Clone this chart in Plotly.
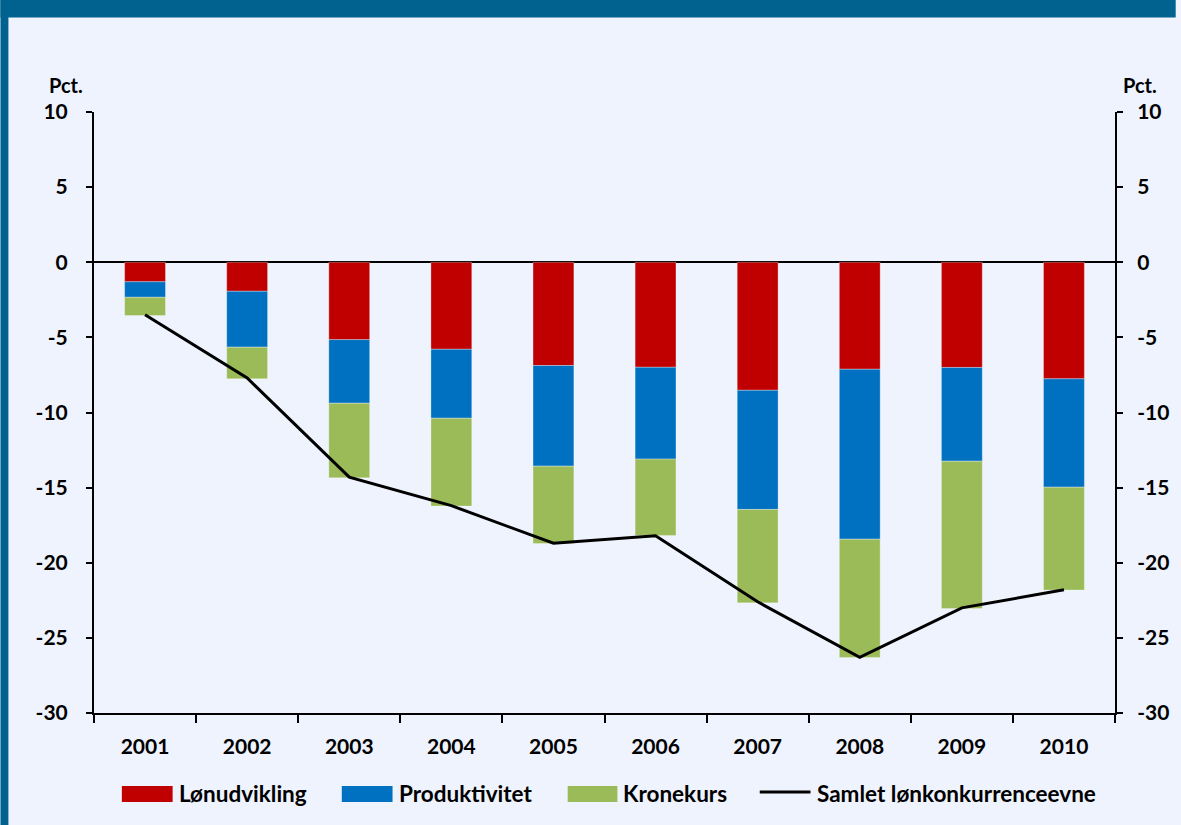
import plotly.graph_objects as go

years = ["2001", "2002", "2003", "2004", "2005", "2006", "2007", "2008", "2009", "2010"]
lonudvikling = [-1.30, -1.93, -5.15, -5.79, -6.87, -6.99, -8.52, -7.12, -7.00, -7.76]
produktivitet = [-1.03, -3.72, -4.23, -4.59, -6.70, -6.11, -7.93, -11.31, -6.24, -7.21]
kronekurs = [-1.22, -2.11, -4.97, -5.85, -5.15, -5.08, -6.22, -7.87, -9.80, -6.85]
samlet = [-3.5, -7.7, -14.3, -16.2, -18.7, -18.2, -22.6, -26.3, -23.0, -21.8]
y_ticks = [10, 5, 0, -5, -10, -15, -20, -25, -30]
series_names = ["Lønudvikling", "Produktivitet", "Kronekurs", "Samlet lønkonkurrenceevne"]
series_colors = ["#C00000", "#0070C0", "#9BBB59", "black"]

FONT = "Lato"
BG = "#EEF3FE"
BANNER = "#02628F"

# plot area pixel geometry
L, R, T, B = 94, 61, 112, 112
W, H = 1181, 825
pw, ph = W - L - R, H - T - B


def px_x(p):
    return (p - L) / pw


def px_y(p):
    return (H - B - p) / ph


fig = go.Figure()
for vals, name, col in zip([lonudvikling, produktivitet, kronekurs], series_names[:3], series_colors[:3]):
    fig.add_trace(go.Bar(x=years, y=vals, name=name, showlegend=False,
                         marker=dict(color=col, line=dict(width=0.6, color="rgba(255,255,255,0.5)"))))
fig.add_trace(go.Scatter(x=years, y=samlet, name=series_names[3], showlegend=False,
                         mode="lines", line=dict(color="black", width=3), yaxis="y2"))

axis_font = dict(family=FONT, size=21, color="black", weight="bold")
leg_font = dict(family=FONT, size=22.5, color="black", weight="bold")
pct_font = dict(family=FONT, size=20, color="black", weight="bold")

# legend drawn as shapes + text (wide swatches as in the reference)
leg_swatch_x = [(122, 173), (343, 394), (570, 620), (763, 814)]
leg_text_x = [177, 398, 624, 819]
shapes = [
    dict(type="rect", xref="paper", yref="paper",
         x0=px_x(0), x1=px_x(W), y0=px_y(17.5), y1=px_y(0),
         fillcolor=BANNER, line=dict(width=0), layer="above"),
    dict(type="rect", xref="paper", yref="paper",
         x0=px_x(0), x1=px_x(8), y0=px_y(H), y1=px_y(0),
         fillcolor=BANNER, line=dict(width=0), layer="above"),
]
annotations = [
    dict(text="Pct.", xref="paper", yref="paper", x=px_x(65.5), y=px_y(84.5),
         xanchor="center", yanchor="middle", showarrow=False, font=pct_font),
    dict(text="Pct.", xref="paper", yref="paper", x=px_x(1145), y=px_y(84.5),
         xanchor="center", yanchor="middle", showarrow=False, font=pct_font),
]
for i, (name, col) in enumerate(zip(series_names, series_colors)):
    x0, x1 = leg_swatch_x[i]
    if i < 3:
        shapes.append(dict(type="rect", xref="paper", yref="paper",
                           x0=px_x(x0), x1=px_x(x1), y0=px_y(802), y1=px_y(786),
                           fillcolor=col, line=dict(width=0)))
    else:
        shapes.append(dict(type="line", xref="paper", yref="paper",
                           x0=px_x(x0), x1=px_x(x1), y0=px_y(792), y1=px_y(792),
                           line=dict(color=col, width=3)))
    annotations.append(dict(text=name, xref="paper", yref="paper",
                            x=px_x(leg_text_x[i]), y=px_y(794),
                            xanchor="left", yanchor="middle", showarrow=False,
                            font=leg_font))

fig.update_layout(
    width=W, height=H,
    margin=dict(l=L, r=R, t=T, b=B, pad=0),
    paper_bgcolor=BG, plot_bgcolor=BG,
    barmode="relative", bargap=0.6,
    showlegend=False,
    xaxis=dict(type="category", showline=True, linecolor="black", linewidth=2,
               ticks="outside", tickson="boundaries", ticklen=8, tickwidth=2, tickcolor="black",
               tickfont=axis_font, showgrid=False, zeroline=False,
               ticklabelstandoff=14),
    yaxis=dict(range=[-30, 10], tickvals=y_ticks, ticktext=[str(v) for v in y_ticks],
               showline=True, linecolor="black", linewidth=2,
               ticks="outside", ticklen=6, tickwidth=2, tickcolor="black",
               tickfont=axis_font, showgrid=False,
               zeroline=True, zerolinecolor="black", zerolinewidth=2,
               ticklabelstandoff=14),
    yaxis2=dict(range=[-30, 10], tickvals=y_ticks, ticktext=[str(v) for v in y_ticks],
                overlaying="y", side="right",
                showline=True, linecolor="black", linewidth=2,
                ticks="outside", ticklen=6, tickwidth=2, tickcolor="black",
                tickfont=axis_font, showgrid=False, zeroline=False,
                ticklabelstandoff=10),
    shapes=shapes,
    annotations=annotations,
)

fig.write_html(
    "out.html",
    config={"displayModeBar": False},
    post_script="document.body.style.margin='0';document.body.style.overflow='hidden';"
                "document.body.style.background='" + BG + "';",
)
